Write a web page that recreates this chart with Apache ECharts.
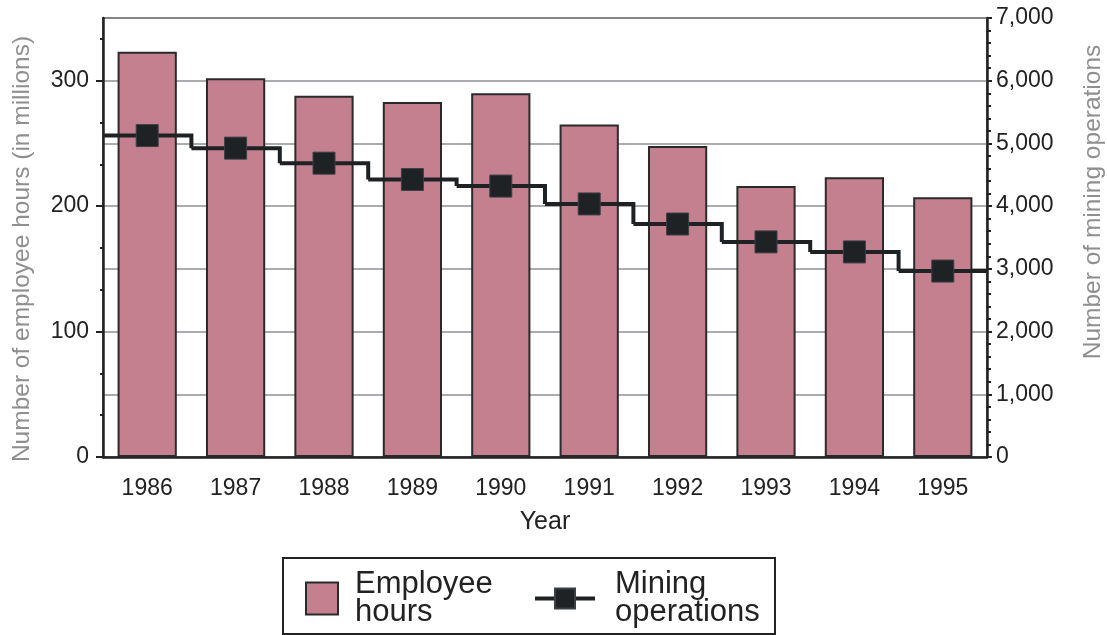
<!DOCTYPE html>
<html>
<head>
<meta charset="utf-8">
<script src="https://cdn.jsdelivr.net/npm/echarts@6/dist/echarts.min.js"></script>
<style>
  html, body { margin: 0; padding: 0; background: #fff; }
  #main { width: 1107px; height: 635px; }
</style>
</head>
<body>
<div id="main"></div>
<script>
// chart data
var years = ['1986', '1987', '1988', '1989', '1990', '1991', '1992', '1993', '1994', '1995'];
var employeeHours = [323, 302, 288, 283, 290, 265, 248, 216, 223, 207];   // in millions
var miningOps = [5125, 4925, 4685, 4425, 4320, 4035, 3715, 3430, 3270, 2965];
var leftTicks = [0, 100, 200, 300];
var rightTicks = [0, 1000, 2000, 3000, 4000, 5000, 6000, 7000];

var FONT = '"Liberation Sans", Arial, sans-serif';
var DARK = '#1e2225';

function commas(v) {
    return String(v).replace(/\B(?=(\d{3})+(?!\d))/g, ',');
}

// step line: each year flat across its whole band, then a drop to the next year
function renderStep(params, api) {
    var i = params.dataIndex;
    var p = api.coord([api.value(0), api.value(1)]);
    var w = api.size([1, 0])[0];
    var pts = [[p[0] - w / 2, p[1]], [p[0] + w / 2, p[1]]];
    if (i < miningOps.length - 1) {
        var q = api.coord([i + 1, miningOps[i + 1]]);
        pts.push([p[0] + w / 2, q[1]]);
    }
    return {
        type: 'polyline',
        shape: { points: pts },
        style: { stroke: DARK, lineWidth: 4, fill: null, lineJoin: 'miter' }
    };
}

var myChart = echarts.init(document.getElementById('main'));

var legendText = { fontSize: 31, lineHeight: 28, color: '#222' };

var option = {
    animation: false,
    textStyle: { fontFamily: FONT },
    grid: {
        left: 103, right: 120, top: 18, bottom: 178,
        show: true, borderColor: '#3a3a3a', borderWidth: 1.5
    },
    legend: [{
        data: ['Employee hours'],
        left: 305, top: 569,
        padding: 0,
        icon: 'rect',
        itemWidth: 32, itemHeight: 32,
        formatter: function () { return 'Employee\nhours'; },
        textStyle: Object.assign({ padding: [0, 0, 0, 12] }, legendText)
    }, {
        data: [{ name: 'Mining operations', lineStyle: { width: 4, color: DARK, opacity: 1 } }],
        left: 533, top: 569,
        padding: 0,
        itemWidth: 60, itemHeight: 25,
        formatter: function () { return 'Mining\noperations'; },
        textStyle: Object.assign({ padding: [0, 0, 0, 15] }, legendText)
    }],
    graphic: [{
        type: 'rect',
        shape: { x: 283, y: 558, width: 492, height: 76 },
        style: { fill: null, stroke: '#222', lineWidth: 2 }
    }, {
        type: 'text',
        x: 22, y: 249, rotation: Math.PI / 2,
        style: {
            text: 'Number of employee hours (in millions)',
            font: '24.5px ' + FONT, fill: '#8f8f8f',
            align: 'center', verticalAlign: 'middle'
        }
    }, {
        type: 'text',
        x: 1093, y: 202, rotation: Math.PI / 2,
        style: {
            text: 'Number of mining operations',
            font: '24.5px ' + FONT, fill: '#8f8f8f',
            align: 'center', verticalAlign: 'middle'
        }
    }],
    xAxis: {
        type: 'category',
        data: years,
        name: 'Year',
        nameLocation: 'middle',
        nameGap: 53,
        nameTextStyle: { fontSize: 25, color: '#222' },
        axisLine: { lineStyle: { color: '#222', width: 2.5 } },
        axisTick: { alignWithLabel: true, length: 6, lineStyle: { color: '#222', width: 2 } },
        axisLabel: { fontSize: 23, color: '#222', margin: 20 }
    },
    yAxis: [{
        type: 'value',
        min: 0, max: 350, interval: 100,
        axisLine: { show: true, lineStyle: { color: '#222', width: 2.5 } },
        axisTick: { show: true, length: 7, lineStyle: { color: '#222', width: 2 }, customValues: leftTicks },
        minorTick: { show: true, splitNumber: 3, length: 3, lineStyle: { color: '#222', width: 2 } },
        axisLabel: { fontSize: 23, color: '#222', margin: 14, customValues: leftTicks },
        splitLine: { show: false }
    }, {
        type: 'value',
        position: 'right',
        min: 0, max: 7000, interval: 1000,
        axisLine: { show: true, lineStyle: { color: '#222', width: 2.5 } },
        axisTick: { show: true, length: 5, lineStyle: { color: '#222', width: 2 } },
        minorTick: { show: true, splitNumber: 5, length: 4, lineStyle: { color: '#222', width: 2 } },
        axisLabel: {
            fontSize: 23, color: '#222', margin: 9, customValues: rightTicks,
            formatter: function (v) { return commas(v); }
        },
        splitLine: { show: true, lineStyle: { color: '#8e9194', width: 1.5 } }
    }],
    series: [{
        name: 'Employee hours',
        type: 'bar',
        data: employeeHours,
        barCategoryGap: '33%',
        itemStyle: { color: '#c5808f', borderColor: '#2a2a2a', borderWidth: 2 },
        z: 2
    }, {
        name: 'steps',
        type: 'custom',
        yAxisIndex: 1,
        data: years.map(function (y, i) { return [i, miningOps[i]]; }),
        renderItem: renderStep,
        z: 4
    }, {
        name: 'Mining operations',
        type: 'line',
        yAxisIndex: 1,
        data: miningOps,
        symbol: 'rect',
        symbolSize: 22,
        showAllSymbol: true,
        lineStyle: { width: 0, opacity: 0 },
        itemStyle: { color: DARK, borderColor: '#3a4146', borderWidth: 1 },
        z: 5
    }]
};

myChart.setOption(option);
</script>
</body>
</html>
